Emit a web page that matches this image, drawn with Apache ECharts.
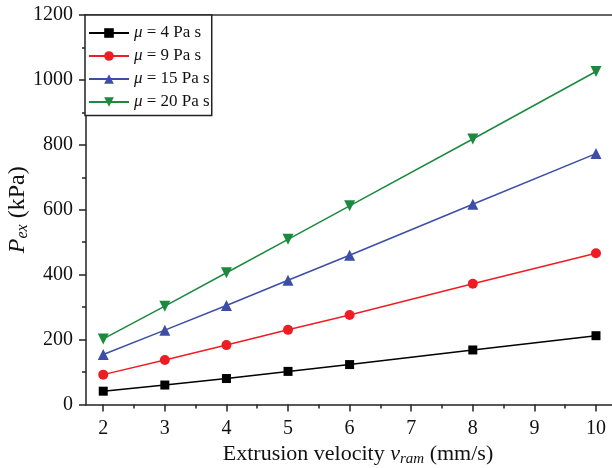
<!DOCTYPE html>
<html><head><meta charset="utf-8">
<script src="https://cdn.jsdelivr.net/npm/echarts@6/dist/echarts.min.js"></script>
<style>html,body{margin:0;padding:0;background:#fff}#c{width:612px;height:468px}</style>
</head><body><div id="c"></div>
<script>
const velocity = [2, 3, 4, 5, 6, 8, 10];
const mu4 = [41, 60, 80, 102, 123, 168, 212];
const mu9 = [92, 137, 183, 230, 276, 372, 466];
const mu15 = [154, 229, 305, 383, 460, 617, 773];
const mu20 = [202, 303, 406, 509, 612, 818, 1026];
const seriesNames = ['μ = 4 Pa s', 'μ = 9 Pa s', 'μ = 15 Pa s', 'μ = 20 Pa s'];
const xTicks = [2, 3, 4, 5, 6, 7, 8, 9, 10];
const xMinorTicks = [2.5, 3.5, 4.5, 5.5, 6.5, 7.5, 8.5, 9.5];

const FONT = '"Liberation Serif", "DejaVu Serif", serif';
const pairs = v => velocity.map((x, i) => [x, v[i]]);
const colors = ['#000000', '#ee1d23', '#3c4ea6', '#1b8a3e'];
const symbols = ['rect', 'circle', 'triangle', 'triangle'];
const sizes = [9, 10, 11, 11];
const rot = [0, 0, 0, 180];
const datasets = [mu4, mu9, mu15, mu20];

const chart = echarts.init(document.getElementById('c'), null, {renderer: 'canvas'});
chart.setOption({
  animation: false,
  backgroundColor: '#fff',
  grid: {left: 86, right: 0, top: 15, bottom: 63.5, containLabel: false, outerBoundsMode: 'none'},
  legend: {
    orient: 'vertical', left: 85, top: 15,
    data: seriesNames,
    itemWidth: 40, itemHeight: 12, itemGap: 6,
    padding: [9.5, 2, 5, 3],
    borderColor: '#222', borderWidth: 1.5,
    backgroundColor: '#fff',
    textStyle: {
      fontFamily: FONT, fontSize: 17, color: '#111',
      rich: {i: {fontFamily: FONT, fontStyle: 'italic', fontSize: 17, color: '#111'}}
    },
    formatter: n => '{i|μ}' + n.slice(1)
  },
  xAxis: [{
    type: 'value', min: 1.72, max: 10.26, position: 'bottom',
    name: '{n|Extrusion velocity }{i|v}{s|ram}{n| (mm/s)}',
    nameLocation: 'middle', nameGap: 37, nameMoveOverlap: false,
    nameTextStyle: {
      padding: [0, 0, 0, 18],
      rich: {
        n: {fontFamily: FONT, fontSize: 22, color: '#111'},
        i: {fontFamily: FONT, fontSize: 22, fontStyle: 'italic', color: '#111'},
        s: {fontFamily: FONT, fontSize: 15, fontStyle: 'italic', color: '#111', verticalAlign: 'bottom', padding: [10, 0, 0, 0]}
      }
    },
    axisLine: {show: true, onZero: false, lineStyle: {color: '#222', width: 1.5}},
    axisTick: {show: true, length: 7, customValues: xTicks, lineStyle: {color: '#222', width: 1.5}},
    axisLabel: {customValues: xTicks, fontFamily: FONT, fontSize: 20, color: '#111', margin: 14},
    splitLine: {show: false}
  }, {
    type: 'value', min: 1.72, max: 10.26, position: 'bottom',
    axisLine: {show: false},
    axisTick: {show: true, length: 4, customValues: xMinorTicks, lineStyle: {color: '#222', width: 1.5}},
    axisLabel: {show: false, customValues: xMinorTicks},
    splitLine: {show: false}
  }, {
    type: 'value', min: 1.72, max: 10.26, position: 'top',
    axisLine: {show: true, lineStyle: {color: '#333', width: 1.5}},
    axisTick: {show: false}, axisLabel: {show: false}, splitLine: {show: false}
  }],
  yAxis: {
    type: 'value', min: 0, max: 1200, interval: 200,
    name: '{i|P}{s|ex}{n| (kPa)}',
    nameLocation: 'middle', nameGap: 55, nameMoveOverlap: false,
    nameTextStyle: {
      rich: {
        n: {fontFamily: FONT, fontSize: 24, color: '#111'},
        i: {fontFamily: FONT, fontSize: 24, fontStyle: 'italic', color: '#111'},
        s: {fontFamily: FONT, fontSize: 16, fontStyle: 'italic', color: '#111', verticalAlign: 'bottom', padding: [11, 0, 0, 0]}
      }
    },
    axisLine: {show: true, lineStyle: {color: '#222', width: 1.5}},
    axisTick: {show: true, length: 7, lineStyle: {color: '#222', width: 1.5}},
    minorTick: {show: true, splitNumber: 2, length: 4, lineStyle: {color: '#222', width: 1.5}},
    axisLabel: {fontFamily: FONT, fontSize: 20, color: '#111', margin: 13, formatter: v => String(v)},
    splitLine: {show: false}
  },
  series: datasets.map((d, k) => ({
    name: seriesNames[k], type: 'line', xAxisIndex: 0,
    data: pairs(d),
    symbol: symbols[k], symbolSize: sizes[k], symbolRotate: rot[k],
    showAllSymbol: true,
    lineStyle: {color: colors[k], width: 1.5},
    itemStyle: {color: colors[k], borderWidth: 0},
    emphasis: {disabled: true}
  }))
});
</script></body></html>
